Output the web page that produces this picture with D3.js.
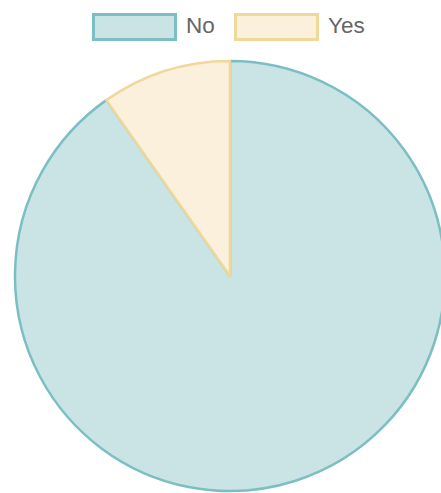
<!DOCTYPE html>
<meta charset="utf-8">
<style>
html, body { margin: 0; background: #fff; }
svg { display: block; }
</style>
<body>
<svg id="chart" width="441" height="493"></svg>
<script src="https://cdn.jsdelivr.net/npm/d3@7"></script>
<script>
// data
var labels = ["No", "Yes"];
var values = [37, 4];
var fills = ["#cae4e6", "#faf0dc"];
var strokes = ["#7cbfc3", "#f0d898"];

var svg = d3.select("#chart");
var cx = 230, cy = 276, radius = 215;

var pie = d3.pie().sort(null).value(function(d) { return d; });
var arc = d3.arc().innerRadius(0).outerRadius(radius);

var g = svg.append("g").attr("transform", "translate(" + cx + "," + cy + ")");

g.selectAll("path")
  .data(pie(values))
  .enter().append("path")
    .attr("d", arc)
    .attr("fill", function(d, i) { return fills[i]; })
    .attr("stroke", function(d, i) { return strokes[i]; })
    .attr("stroke-width", 2.5)
    .attr("stroke-linejoin", "round");

// legend
var legendX = [92, 234];
var legend = svg.append("g").selectAll("g")
  .data(labels)
  .enter().append("g")
    .attr("transform", function(d, i) { return "translate(" + legendX[i] + ",13)"; });

legend.append("rect")
  .attr("x", 1.5).attr("y", 1.5)
  .attr("width", 82).attr("height", 25)
  .attr("fill", function(d, i) { return fills[i]; })
  .attr("stroke", function(d, i) { return strokes[i]; })
  .attr("stroke-width", 3);

legend.append("text")
  .attr("x", 94).attr("y", 20)
  .attr("font-family", "Helvetica, Arial, 'Liberation Sans', sans-serif")
  .attr("font-size", 22.5)
  .attr("fill", "#666")
  .text(function(d) { return d; });
</script>
</body>
